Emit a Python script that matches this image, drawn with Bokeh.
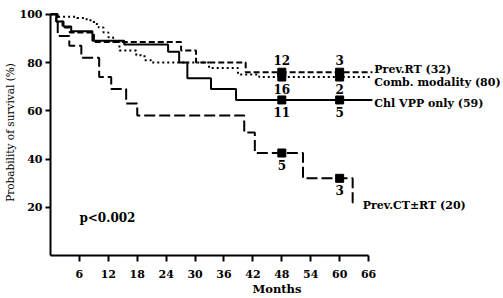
from bokeh.plotting import figure
from bokeh.models import Range1d, FixedTicker, ColumnDataSource
from bokeh.core.properties import value
from bokeh.embed import file_html
from bokeh.resources import INLINE

# ---- data ----
ct_t = [0, 1.5, 3.9, 6.4, 10.1, 12.6, 15.7, 18.0, 40.2, 42.4, 52.4, 62.7, 63.6]
ct_s = [100, 91, 87, 82, 74, 69, 63, 58, 51, 42.5, 32, 22, 22]

chl_t = [0, 1.2, 2.7, 4.3, 8.7, 15.3, 24.4, 26.7, 28.4, 33.3, 38.5, 66.8]
chl_s = [100, 97, 95, 93, 89, 87.5, 84.5, 80, 73.5, 69, 64.5, 64.5]

rt_t = [0, 1.2, 2.5, 4.0, 9.0, 27.1, 30.2, 40.5, 66.8]
rt_s = [100, 97, 94.5, 92.5, 88.5, 85, 80, 76, 76]

comb_t = [0, 1.5, 5.5, 7.5, 9, 10, 11, 12, 13, 14.3, 17.8, 19.5, 20.9, 32.9, 38.9, 43.3, 66.8]
comb_s = [100, 99, 98.5, 97.5, 96, 94.5, 92.5, 90.5, 88.5, 85, 83, 81, 80, 77.7, 75, 74, 74]

mark_t = [48, 60]
rt_mark = [76, 76]
comb_mark = [74, 74]
chl_mark = [64.5, 64.5]
ct_mark = [42.5, 32]

rt_risk = ["12", "3"]
comb_risk = ["16", "2"]
chl_risk = ["11", "5"]
ct_risk = ["5", "3"]

x_ticks = [6, 12, 18, 24, 30, 36, 42, 48, 54, 60, 66]
y_ticks = [20, 40, 60, 80, 100]

series_names = ["Prev.RT (32)", "Comb. modality (80)", "Chl VPP only (59)", "Prev.CT\u00b1RT (20)"]
name_x = [67.2, 67.2, 67.2, 64.8]
name_y = [77.0, 71.6, 63.0, 20.6]

SERIF = "DejaVu Serif"

p = figure(width=503, height=298, output_backend="svg", toolbar_location=None,
           x_range=Range1d(0, 94.0), y_range=Range1d(0, 102),
           min_border_left=50, min_border_right=0, min_border_top=9, min_border_bottom=41)
p.outline_line_color = None
p.xgrid.visible = False
p.ygrid.visible = False
p.background_fill_color = "white"

for ax in (p.xaxis[0], p.yaxis[0]):
    ax.axis_line_width = 2
    ax.axis_line_color = "black"
    ax.major_tick_line_width = 2
    ax.major_tick_line_color = "black"
    ax.major_tick_in = 0
    ax.major_tick_out = 6
    ax.minor_tick_line_color = None
    ax.major_label_text_font = SERIF
    ax.major_label_text_font_style = "bold"
    ax.major_label_text_font_size = "11px"
    ax.major_label_text_color = "black"
    ax.axis_label_text_font = SERIF
    ax.axis_label_text_color = "black"

p.xaxis[0].ticker = FixedTicker(ticks=x_ticks)
p.xaxis[0].bounds = (0, 66)
p.xaxis[0].major_label_standoff = 8
p.xaxis[0].axis_label = "Months"
p.xaxis[0].axis_label_text_font_style = "bold"
p.xaxis[0].axis_label_text_font_size = "11.5px"
p.xaxis[0].axis_label_standoff = 1

p.yaxis[0].ticker = FixedTicker(ticks=y_ticks)
p.yaxis[0].major_tick_out = 5
p.yaxis[0].bounds = (0, 100)
p.yaxis[0].major_label_standoff = 3
p.yaxis[0].axis_label = "Probability of survival (%)"
p.yaxis[0].axis_label_text_font_style = "normal"
p.yaxis[0].axis_label_text_font_size = "10.5px"
p.yaxis[0].axis_label_standoff = 1

lw = 2
p.step(rt_t, rt_s, mode="after", line_color="black", line_width=lw, line_dash="6 3")
p.step(comb_t, comb_s, mode="after", line_color="black", line_width=lw, line_dash="2 3")
p.step(chl_t, chl_s, mode="after", line_color="black", line_width=lw)
p.step(ct_t, ct_s, mode="after", line_color="black", line_width=lw, line_dash="11 4")

for ys in (rt_mark, comb_mark, chl_mark, ct_mark):
    p.scatter(mark_t, ys, marker="square", size=8, fill_color="black", line_color="black")

def risk_text(ys, labels, dy):
    src = ColumnDataSource(dict(x=mark_t, y=ys, t=labels))
    p.text(x="x", y="y", text="t", source=src, y_offset=dy, text_align="center",
           text_baseline="middle", text_font=value(SERIF), text_font_style="bold",
           text_font_size="12px", text_color="black")

risk_text(rt_mark, rt_risk, -12)
risk_text(comb_mark, comb_risk, 12)
risk_text(chl_mark, chl_risk, 12)
risk_text(ct_mark, ct_risk, 12)

src = ColumnDataSource(dict(x=name_x, y=name_y, t=series_names))
p.text(x="x", y="y", text="t", source=src, text_align="left", text_baseline="middle",
       text_font=value(SERIF), text_font_style="bold", text_font_size="11px",
       text_color="black")

p.text(x=[6], y=[15.5], text=["p<0.002"], text_align="left", text_baseline="middle",
       text_font=value(SERIF), text_font_style="bold", text_font_size="12px",
       text_color="black")

open("out.html", "w").write(file_html(p, INLINE))
